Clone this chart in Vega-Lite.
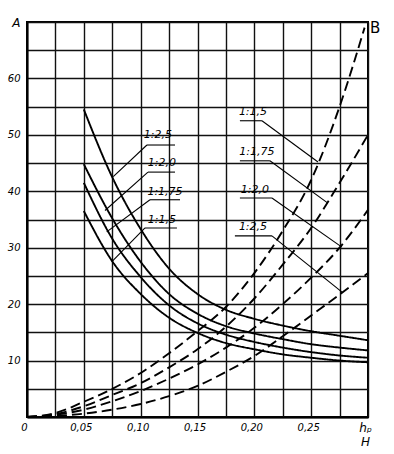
{
  "$schema": "https://vega.github.io/schema/vega-lite/v6.json",
  "width": 341,
  "height": 395,
  "autosize": {"type": "none"},
  "padding": {"left": 27, "top": 22, "right": 26, "bottom": 37},
  "background": "white",
  "config": {
    "view": {"stroke": "black", "strokeWidth": 2},
    "font": "DejaVu Sans",
    "axis": {
      "domainColor": "black",
      "domainWidth": 2,
      "gridColor": "#111111",
      "gridWidth": 1.4,
      "gridOpacity": 1,
      "ticks": false,
      "labelFont": "DejaVu Sans",
      "labelFontStyle": "italic",
      "labelFontSize": 10,
      "labelColor": "black"
    }
  },
  "datasets": {
    "curves": [
      {"series": "S 1:2,5", "kind": "solid", "x": 0.05, "y": 54.5},
      {"series": "S 1:2,5", "kind": "solid", "x": 0.075, "y": 42.5},
      {"series": "S 1:2,5", "kind": "solid", "x": 0.1, "y": 33.3},
      {"series": "S 1:2,5", "kind": "solid", "x": 0.125, "y": 26.3},
      {"series": "S 1:2,5", "kind": "solid", "x": 0.15, "y": 21.8},
      {"series": "S 1:2,5", "kind": "solid", "x": 0.175, "y": 19.0},
      {"series": "S 1:2,5", "kind": "solid", "x": 0.2, "y": 17.4},
      {"series": "S 1:2,5", "kind": "solid", "x": 0.225, "y": 16.2},
      {"series": "S 1:2,5", "kind": "solid", "x": 0.25, "y": 15.2},
      {"series": "S 1:2,5", "kind": "solid", "x": 0.275, "y": 14.4},
      {"series": "S 1:2,5", "kind": "solid", "x": 0.3, "y": 13.6},
      {"series": "S 1:2,0", "kind": "solid", "x": 0.05, "y": 44.8},
      {"series": "S 1:2,0", "kind": "solid", "x": 0.075, "y": 35.2},
      {"series": "S 1:2,0", "kind": "solid", "x": 0.1, "y": 27.5},
      {"series": "S 1:2,0", "kind": "solid", "x": 0.125, "y": 21.8},
      {"series": "S 1:2,0", "kind": "solid", "x": 0.15, "y": 18.3},
      {"series": "S 1:2,0", "kind": "solid", "x": 0.175, "y": 16.1},
      {"series": "S 1:2,0", "kind": "solid", "x": 0.2, "y": 14.8},
      {"series": "S 1:2,0", "kind": "solid", "x": 0.225, "y": 13.8},
      {"series": "S 1:2,0", "kind": "solid", "x": 0.25, "y": 12.9},
      {"series": "S 1:2,0", "kind": "solid", "x": 0.275, "y": 12.3},
      {"series": "S 1:2,0", "kind": "solid", "x": 0.3, "y": 11.8},
      {"series": "S 1:1,75", "kind": "solid", "x": 0.05, "y": 41.5},
      {"series": "S 1:1,75", "kind": "solid", "x": 0.075, "y": 31.6},
      {"series": "S 1:1,75", "kind": "solid", "x": 0.1, "y": 24.8},
      {"series": "S 1:1,75", "kind": "solid", "x": 0.125, "y": 19.8},
      {"series": "S 1:1,75", "kind": "solid", "x": 0.15, "y": 16.6},
      {"series": "S 1:1,75", "kind": "solid", "x": 0.175, "y": 14.6},
      {"series": "S 1:1,75", "kind": "solid", "x": 0.2, "y": 13.3},
      {"series": "S 1:1,75", "kind": "solid", "x": 0.225, "y": 12.3},
      {"series": "S 1:1,75", "kind": "solid", "x": 0.25, "y": 11.5},
      {"series": "S 1:1,75", "kind": "solid", "x": 0.275, "y": 10.9},
      {"series": "S 1:1,75", "kind": "solid", "x": 0.3, "y": 10.5},
      {"series": "S 1:1,5", "kind": "solid", "x": 0.05, "y": 36.5},
      {"series": "S 1:1,5", "kind": "solid", "x": 0.075, "y": 27.6},
      {"series": "S 1:1,5", "kind": "solid", "x": 0.1, "y": 21.8},
      {"series": "S 1:1,5", "kind": "solid", "x": 0.125, "y": 17.6},
      {"series": "S 1:1,5", "kind": "solid", "x": 0.15, "y": 14.9},
      {"series": "S 1:1,5", "kind": "solid", "x": 0.175, "y": 13.1},
      {"series": "S 1:1,5", "kind": "solid", "x": 0.2, "y": 12.0},
      {"series": "S 1:1,5", "kind": "solid", "x": 0.225, "y": 11.1},
      {"series": "S 1:1,5", "kind": "solid", "x": 0.25, "y": 10.5},
      {"series": "S 1:1,5", "kind": "solid", "x": 0.275, "y": 10.0},
      {"series": "S 1:1,5", "kind": "solid", "x": 0.3, "y": 9.7},
      {"series": "D 1:1,5", "kind": "dashed", "x": 0, "y": 0},
      {"series": "D 1:1,5", "kind": "dashed", "x": 0.025, "y": 0.7},
      {"series": "D 1:1,5", "kind": "dashed", "x": 0.05, "y": 2.7},
      {"series": "D 1:1,5", "kind": "dashed", "x": 0.075, "y": 5.0},
      {"series": "D 1:1,5", "kind": "dashed", "x": 0.1, "y": 7.8},
      {"series": "D 1:1,5", "kind": "dashed", "x": 0.125, "y": 11.3},
      {"series": "D 1:1,5", "kind": "dashed", "x": 0.15, "y": 15.2},
      {"series": "D 1:1,5", "kind": "dashed", "x": 0.175, "y": 19.5},
      {"series": "D 1:1,5", "kind": "dashed", "x": 0.2, "y": 25.5},
      {"series": "D 1:1,5", "kind": "dashed", "x": 0.225, "y": 33.0},
      {"series": "D 1:1,5", "kind": "dashed", "x": 0.25, "y": 42.0},
      {"series": "D 1:1,5", "kind": "dashed", "x": 0.275, "y": 55.0},
      {"series": "D 1:1,5", "kind": "dashed", "x": 0.297, "y": 69.0},
      {"series": "D 1:1,75", "kind": "dashed", "x": 0, "y": 0},
      {"series": "D 1:1,75", "kind": "dashed", "x": 0.025, "y": 0.5},
      {"series": "D 1:1,75", "kind": "dashed", "x": 0.05, "y": 1.9},
      {"series": "D 1:1,75", "kind": "dashed", "x": 0.075, "y": 3.9},
      {"series": "D 1:1,75", "kind": "dashed", "x": 0.1, "y": 6.0},
      {"series": "D 1:1,75", "kind": "dashed", "x": 0.125, "y": 8.8},
      {"series": "D 1:1,75", "kind": "dashed", "x": 0.15, "y": 12.0},
      {"series": "D 1:1,75", "kind": "dashed", "x": 0.175, "y": 16.0},
      {"series": "D 1:1,75", "kind": "dashed", "x": 0.2, "y": 21.0},
      {"series": "D 1:1,75", "kind": "dashed", "x": 0.225, "y": 27.0},
      {"series": "D 1:1,75", "kind": "dashed", "x": 0.25, "y": 33.5},
      {"series": "D 1:1,75", "kind": "dashed", "x": 0.275, "y": 41.5},
      {"series": "D 1:1,75", "kind": "dashed", "x": 0.3, "y": 50.0},
      {"series": "D 1:2,0", "kind": "dashed", "x": 0, "y": 0},
      {"series": "D 1:2,0", "kind": "dashed", "x": 0.025, "y": 0.4},
      {"series": "D 1:2,0", "kind": "dashed", "x": 0.05, "y": 1.3},
      {"series": "D 1:2,0", "kind": "dashed", "x": 0.075, "y": 2.8},
      {"series": "D 1:2,0", "kind": "dashed", "x": 0.1, "y": 4.6},
      {"series": "D 1:2,0", "kind": "dashed", "x": 0.125, "y": 6.8},
      {"series": "D 1:2,0", "kind": "dashed", "x": 0.15, "y": 9.3},
      {"series": "D 1:2,0", "kind": "dashed", "x": 0.175, "y": 12.3},
      {"series": "D 1:2,0", "kind": "dashed", "x": 0.2, "y": 15.8},
      {"series": "D 1:2,0", "kind": "dashed", "x": 0.225, "y": 20.0},
      {"series": "D 1:2,0", "kind": "dashed", "x": 0.25, "y": 24.7},
      {"series": "D 1:2,0", "kind": "dashed", "x": 0.275, "y": 30.0},
      {"series": "D 1:2,0", "kind": "dashed", "x": 0.3, "y": 36.7},
      {"series": "D 1:2,5", "kind": "dashed", "x": 0, "y": 0},
      {"series": "D 1:2,5", "kind": "dashed", "x": 0.025, "y": 0.2},
      {"series": "D 1:2,5", "kind": "dashed", "x": 0.05, "y": 0.6},
      {"series": "D 1:2,5", "kind": "dashed", "x": 0.075, "y": 1.3},
      {"series": "D 1:2,5", "kind": "dashed", "x": 0.1, "y": 2.3},
      {"series": "D 1:2,5", "kind": "dashed", "x": 0.125, "y": 3.7},
      {"series": "D 1:2,5", "kind": "dashed", "x": 0.15, "y": 5.5},
      {"series": "D 1:2,5", "kind": "dashed", "x": 0.175, "y": 8.0},
      {"series": "D 1:2,5", "kind": "dashed", "x": 0.2, "y": 10.8},
      {"series": "D 1:2,5", "kind": "dashed", "x": 0.225, "y": 14.3},
      {"series": "D 1:2,5", "kind": "dashed", "x": 0.25, "y": 18.0},
      {"series": "D 1:2,5", "kind": "dashed", "x": 0.275, "y": 21.7},
      {"series": "D 1:2,5", "kind": "dashed", "x": 0.3, "y": 25.5}
    ],
    "leaders": [
      {"x": 0.1055, "y": 48.2, "x2": 0.1302, "y2": 48.2},
      {"x": 0.1055, "y": 48.2, "x2": 0.0759, "y2": 42.6},
      {"x": 0.1064, "y": 43.4, "x2": 0.1302, "y2": 43.4},
      {"x": 0.1064, "y": 43.4, "x2": 0.0686, "y2": 36.6},
      {"x": 0.1082, "y": 38.5, "x2": 0.1346, "y2": 38.5},
      {"x": 0.1082, "y": 38.5, "x2": 0.0701, "y2": 32.8},
      {"x": 0.1038, "y": 33.5, "x2": 0.1319, "y2": 33.5},
      {"x": 0.1038, "y": 33.5, "x2": 0.0745, "y2": 27.5},
      {"x": 0.1873, "y": 52.5, "x2": 0.2067, "y2": 52.5},
      {"x": 0.2067, "y": 52.5, "x2": 0.256, "y2": 45.2},
      {"x": 0.1873, "y": 45.4, "x2": 0.2137, "y2": 45.4},
      {"x": 0.2137, "y": 45.4, "x2": 0.2647, "y2": 37.9},
      {"x": 0.1873, "y": 38.8, "x2": 0.2155, "y2": 38.8},
      {"x": 0.2155, "y": 38.8, "x2": 0.277, "y2": 30.1},
      {"x": 0.1829, "y": 32.1, "x2": 0.2155, "y2": 32.1},
      {"x": 0.2155, "y": 32.1, "x2": 0.278, "y2": 22.0}
    ],
    "labels": [
      {"x": 0.1152, "y": 50.0, "text": "1:2,5"},
      {"x": 0.1187, "y": 45.0, "text": "1:2,0"},
      {"x": 0.1214, "y": 39.9, "text": "1:1,75"},
      {"x": 0.1187, "y": 34.9, "text": "1:1,5"},
      {"x": 0.1988, "y": 54.0, "text": "1:1,5"},
      {"x": 0.2023, "y": 46.9, "text": "1:1,75"},
      {"x": 0.2005, "y": 40.2, "text": "1:2,0"},
      {"x": 0.1988, "y": 33.6, "text": "1:2,5"}
    ],
    "corner": [
      {"x": 0.3, "y": 70, "text": "B"}
    ]
  },
  "encoding": {
    "x": {
      "field": "x", "type": "quantitative", "title": null,
      "scale": {"domain": [0, 0.3], "nice": false, "zero": false},
      "axis": {
        "values": [0, 0.025, 0.05, 0.075, 0.1, 0.125, 0.15, 0.175, 0.2, 0.225, 0.25, 0.275, 0.3],
        "grid": true,
        "labelPadding": 5,
        "labelOffset": -3,
        "labelOverlap": false,
        "labelFlush": false,
        "labelFontSize": {"condition": {"test": "datum.value > 0.29", "value": 12}, "value": 10},
        "labelExpr": "datum.value == 0 ? '0' : (datum.value > 0.29 ? ['hₚ', 'H'] : (abs(datum.value * 20 - round(datum.value * 20)) < 0.001 ? replace(format(datum.value, '.2f'), '.', ',') : ''))"
      }
    },
    "y": {
      "field": "y", "type": "quantitative", "title": null,
      "scale": {"domain": [0, 70], "nice": false, "zero": false},
      "axis": {
        "values": [0, 5, 10, 15, 20, 25, 30, 35, 40, 45, 50, 55, 60, 65, 70],
        "grid": true,
        "labelPadding": 7,
        "labelOverlap": false,
        "labelFlush": false,
        "labelFontSize": {"condition": {"test": "datum.value == 70", "value": 12}, "value": 10},
        "labelExpr": "datum.value == 70 ? 'A' : (datum.value > 0 && datum.value % 10 == 0 ? datum.value + '' : '')"
      }
    }
  },
  "layer": [
    {
      "data": {"name": "curves"},
      "mark": {"type": "line", "interpolate": "monotone", "color": "black", "strokeWidth": 1.9},
      "encoding": {
        "detail": {"field": "series", "type": "nominal"},
        "strokeDash": {
          "field": "kind", "type": "nominal",
          "scale": {"domain": ["solid", "dashed"], "range": [[1, 0], [10, 5]]},
          "legend": null
        }
      }
    },
    {
      "data": {"name": "leaders"},
      "mark": {"type": "rule", "color": "black", "strokeWidth": 1.1},
      "encoding": {
        "x2": {"field": "x2"},
        "y2": {"field": "y2"}
      }
    },
    {
      "data": {"name": "labels"},
      "mark": {"type": "text", "fontStyle": "italic", "fontSize": 11, "align": "center", "baseline": "middle", "fill": "black"},
      "encoding": {
        "text": {"field": "text"}
      }
    },
    {
      "data": {"name": "corner"},
      "mark": {"type": "text", "fontSize": 15, "align": "left", "baseline": "top", "dx": 2, "dy": -1, "fill": "black"},
      "encoding": {
        "text": {"field": "text"}
      }
    }
  ]
}
